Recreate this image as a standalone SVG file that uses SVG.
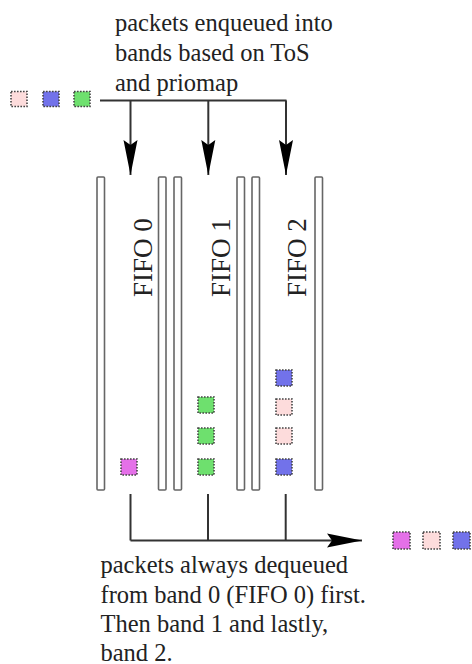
<svg xmlns="http://www.w3.org/2000/svg" width="472" height="664" viewBox="0 0 472 664">
  <style>
    .txt { font-family: "Liberation Serif", "Times New Roman", serif; font-size: 24.5px; fill: #222; }
    .lbl { font-family: "Liberation Serif", "Times New Roman", serif; font-size: 27px; fill: #222; }
    .tube { fill: #fff; stroke: #666; stroke-width: 1.6; }
    .pkt { stroke: #444; stroke-width: 1.6; stroke-dasharray: 1.6 1.4; }
    .pink { fill: #fddcdc; }
    .blue { fill: #7272ea; }
    .green { fill: #6ee06e; }
    .mag { fill: #e470e8; }
    .conn { fill: none; stroke: #333; stroke-width: 2; }
  </style>
  <defs>
    <marker id="arrow" markerUnits="userSpaceOnUse" viewBox="-36 -8 37 16" refX="0" refY="0" markerWidth="37" markerHeight="16" orient="auto">
      <path d="M0,0 L-35,-7 L-30,0 L-35,7 Z" fill="#000"/>
    </marker>
  </defs>
  <rect width="472" height="664" fill="#fff"/>

  <g id="text-enqueue">
    <text class="txt" x="115" y="31">packets enqueued into</text>
    <text class="txt" x="115" y="61">bands based on ToS</text>
    <text class="txt" x="115" y="90.5">and priomap</text>
  </g>

  <g id="input-packets">
    <rect class="pkt pink" x="11" y="91.5" width="16" height="15"/>
    <rect class="pkt blue" x="43" y="91.5" width="16" height="15"/>
    <rect class="pkt green" x="74" y="91.5" width="16" height="15"/>
  </g>

  <g id="connectors">
    <path class="conn" d="M100 100.5 H286.5"/>
    <path class="conn" d="M130.5 100.5 V175" marker-end="url(#arrow)"/>
    <path class="conn" d="M208.3 100.5 V175" marker-end="url(#arrow)"/>
    <path class="conn" d="M286 100.5 V175" marker-end="url(#arrow)"/>
    <path class="conn" d="M130.5 494 V540.5"/>
    <path class="conn" d="M208 494 V540.5"/>
    <path class="conn" d="M285.7 494 V540.5"/>
    <path class="conn" d="M130.5 540.5 H362" marker-end="url(#arrow)"/>
  </g>

  <g id="fifo0">
    <rect class="tube" x="97" y="177" width="7.5" height="313" rx="1"/>
    <rect class="tube" x="158.5" y="177" width="7.5" height="313" rx="1"/>
    <text class="lbl" transform="translate(152,297) rotate(-90)">FIFO 0</text>
    <rect class="pkt mag" x="121" y="459" width="16" height="16"/>
  </g>

  <g id="fifo1">
    <rect class="tube" x="174" y="177" width="7.5" height="313" rx="1"/>
    <rect class="tube" x="237" y="177" width="7.5" height="313" rx="1"/>
    <text class="lbl" transform="translate(229.5,297) rotate(-90)">FIFO 1</text>
    <rect class="pkt green" x="198" y="397" width="16" height="16"/>
    <rect class="pkt green" x="198" y="428" width="16" height="16"/>
    <rect class="pkt green" x="198" y="459" width="16" height="16"/>
  </g>

  <g id="fifo2">
    <rect class="tube" x="252" y="177" width="7.5" height="313" rx="1"/>
    <rect class="tube" x="315" y="177" width="7.5" height="313" rx="1"/>
    <text class="lbl" transform="translate(306,297) rotate(-90)">FIFO 2</text>
    <rect class="pkt blue" x="276" y="370" width="16" height="16"/>
    <rect class="pkt pink" x="276" y="399" width="16" height="16"/>
    <rect class="pkt pink" x="276" y="428" width="16" height="16"/>
    <rect class="pkt blue" x="276" y="459" width="16" height="16"/>
  </g>

  <g id="output-packets">
    <rect class="pkt mag" x="393" y="532" width="17" height="17"/>
    <rect class="pkt pink" x="423" y="532" width="17" height="17"/>
    <rect class="pkt blue" x="453" y="532" width="17" height="17"/>
  </g>

  <g id="text-dequeue">
    <text class="txt" x="100.5" y="573">packets always dequeued</text>
    <text class="txt" x="100.5" y="602.5">from band 0 (FIFO 0) first.</text>
    <text class="txt" x="100.5" y="632">Then band 1 and lastly,</text>
    <text class="txt" x="100.5" y="660.5">band 2.</text>
  </g>
</svg>
